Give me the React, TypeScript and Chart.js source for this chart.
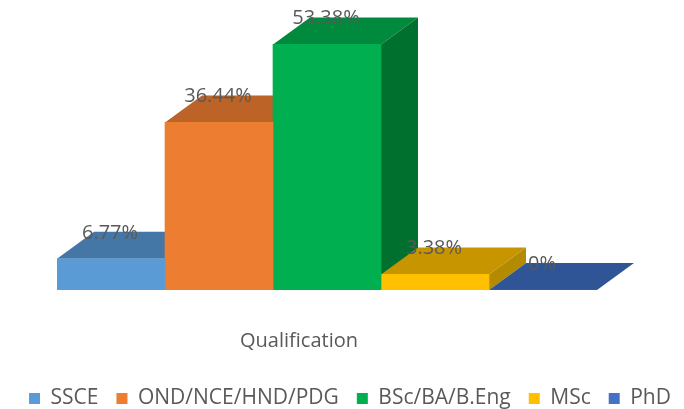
import React, { useEffect, useRef } from "react";
import { Chart, registerables } from "chart.js";

Chart.register(...registerables);

const categories = ["Qualification"];
const seriesNames = ["SSCE", "OND/NCE/HND/PDG", "BSc/BA/B.Eng", "MSc", "PhD"];
const seriesValues = [6.77, 36.44, 53.38, 3.38, 0];
const frontColors = ["#5B9BD5", "#ED7D31", "#00B050", "#FFC000", "#4472C4"];
const topColors = ["#4577A6", "#BC6327", "#008A3E", "#C79500", "#2F5597"];
const sideColors = ["#3B6690", "#A35522", "#00702F", "#B48A00", "#274A82"];

const DEPTH_X = 37;
const DEPTH_Y = 27;
const LEFT_GUTTER = 49;
const RIGHT_GUTTER = 95;
const AXIS_HEIGHT = 80;
const TEXT_COLOR = "#595959";
const FONT_FAMILY = "'Open Sans', sans-serif";

function fillQuad(ctx: CanvasRenderingContext2D, pts: number[][], color: string) {
  ctx.beginPath();
  ctx.moveTo(pts[0][0], pts[0][1]);
  for (let i = 1; i < pts.length; i++) ctx.lineTo(pts[i][0], pts[i][1]);
  ctx.closePath();
  ctx.fillStyle = color;
  ctx.fill();
}

// Extrudes each bar backwards, painting left to right so nearer faces overlap correctly.
const depthFaces = {
  id: "depthFaces",
  beforeDatasetsDraw(chart: any) {
    const { ctx } = chart;
    seriesValues.forEach((_, i) => {
      const bar = chart.getDatasetMeta(i).data[0];
      const half = bar.width / 2;
      const l = bar.x - half;
      const r = bar.x + half;
      const t = bar.y;
      const b = bar.base;
      fillQuad(ctx, [[l, t], [r, t], [r + DEPTH_X, t - DEPTH_Y], [l + DEPTH_X, t - DEPTH_Y]], topColors[i]);
      if (b > t) {
        fillQuad(ctx, [[r, t], [r + DEPTH_X, t - DEPTH_Y], [r + DEPTH_X, b - DEPTH_Y], [r, b]], sideColors[i]);
      }
    });
  },
};

// Percentage labels sit on the top face of every bar.
const valueLabels = {
  id: "valueLabels",
  afterDatasetsDraw(chart: any) {
    const { ctx } = chart;
    ctx.save();
    ctx.font = `20px ${FONT_FAMILY}`;
    ctx.fillStyle = TEXT_COLOR;
    ctx.textAlign = "center";
    ctx.textBaseline = "middle";
    seriesValues.forEach((v, i) => {
      const bar = chart.getDatasetMeta(i).data[0];
      ctx.fillText(`${v}%`, bar.x - 1, bar.y - DEPTH_Y + 1);
    });
    ctx.restore();
  },
};

// Blank value axes reserve the side gutters without narrowing the legend row.
const blankAxis = (position: string, width: number) => ({
  position,
  min: 0,
  max: 60,
  grid: { display: false },
  border: { display: false },
  ticks: { display: false },
  afterFit(scale: any) {
    scale.width = width;
  },
});

export default function App() {
  const ref = useRef<HTMLCanvasElement>(null);

  useEffect(() => {
    const chart = new Chart(ref.current as HTMLCanvasElement, {
      type: "bar",
      data: {
        labels: categories,
        datasets: seriesNames.map((name, i) => ({
          label: name,
          data: [seriesValues[i]],
          backgroundColor: frontColors[i],
          borderWidth: 0,
          barPercentage: 1,
          categoryPercentage: 1,
        })),
      },
      options: {
        responsive: false,
        animation: false,
        layout: { padding: { top: 14, bottom: -10, left: 8, right: -8 } },
        plugins: {
          tooltip: { enabled: false },
          legend: {
            position: "bottom",
            labels: {
              boxWidth: 11,
              boxHeight: 11,
              padding: 18,
              color: TEXT_COLOR,
              font: { family: FONT_FAMILY, size: 21 },
            },
          },
        },
        scales: {
          x: {
            grid: { display: false },
            border: { display: false },
            ticks: {
              color: TEXT_COLOR,
              font: { family: FONT_FAMILY, size: 20 },
              padding: 31,
              labelOffset: -28,
              maxRotation: 0,
            },
            afterFit(scale: any) {
              scale.height = AXIS_HEIGHT;
            },
          },
          y: blankAxis("left", LEFT_GUTTER),
          yRight: blankAxis("right", RIGHT_GUTTER),
        },
      },
      plugins: [depthFaces, valueLabels],
    });
    return () => chart.destroy();
  }, []);

  return (
    <canvas
      ref={ref}
      width={684}
      height={409}
      style={{ position: "absolute", left: 0, top: 0, width: 684, height: 409 }}
    />
  );
}
